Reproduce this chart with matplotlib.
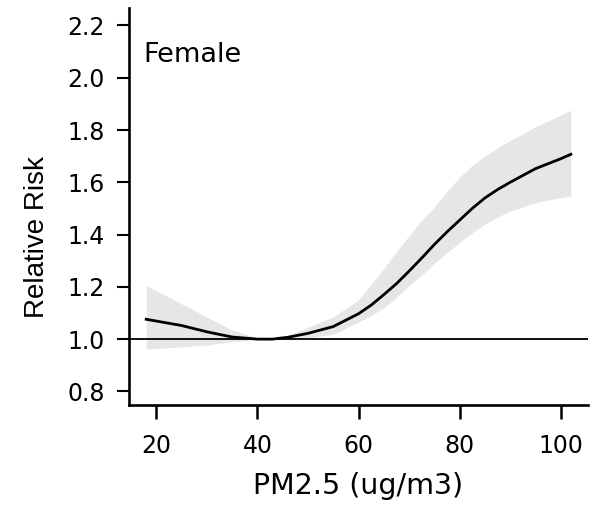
import matplotlib
matplotlib.use("Agg")
import matplotlib.pyplot as plt

# PM2.5 concentration (ug/m3) and estimated relative risk with 95% CI
pm25 = [18, 25, 30, 35, 40, 43, 46, 50, 55, 60, 62.5, 65, 67.5, 70, 72.5, 75,
        77.5, 80, 82.5, 85, 87.5, 90, 95, 100, 102]
rr = [1.076, 1.052, 1.028, 1.008, 1.000, 1.000, 1.007, 1.022, 1.048, 1.097,
      1.130, 1.170, 1.212, 1.260, 1.310, 1.362, 1.410, 1.455, 1.500, 1.540,
      1.572, 1.600, 1.652, 1.690, 1.707]
rr_upper = [1.206, 1.135, 1.085, 1.035, 1.005, 1.000, 1.015, 1.045, 1.085, 1.150,
            1.210, 1.270, 1.335, 1.395, 1.455, 1.505, 1.565, 1.620, 1.665, 1.700,
            1.732, 1.760, 1.812, 1.857, 1.876]
rr_lower = [0.962, 0.970, 0.978, 0.990, 0.998, 1.000, 1.000, 1.005, 1.018, 1.065,
            1.090, 1.120, 1.160, 1.205, 1.245, 1.290, 1.330, 1.370, 1.407, 1.440,
            1.467, 1.490, 1.522, 1.542, 1.547]

xticks = [20, 40, 60, 80, 100]
yticks = [0.8, 1.0, 1.2, 1.4, 1.6, 1.8, 2.0, 2.2]

plt.rcParams['font.family'] = ['DejaVu Sans']

fig = plt.figure(figsize=(5.98, 5.12), dpi=100)
ax = fig.add_axes([0.2157, 0.209, 0.7676, 0.775])

ax.fill_between(pm25, rr_lower, rr_upper, color="#e6e6e6", linewidth=0)
ax.plot(pm25, rr, color="black", linewidth=2.0)
ax.axhline(1.0, color="black", linewidth=1.3)

ax.set_xlim(14.6, 105.4)
ax.set_ylim(0.748, 2.266)
ax.set_xticks(xticks)
ax.set_yticks(yticks)
ax.set_yticklabels([f"{v:.1f}" for v in yticks])

for side in ("top", "right"):
    ax.spines[side].set_visible(False)
for side in ("left", "bottom"):
    ax.spines[side].set_linewidth(1.9)

ax.tick_params(axis="x", length=10, width=1.8, pad=11, labelsize=17)
ax.tick_params(axis="y", length=8.6, width=1.5, pad=9, labelsize=17)

ax.set_xlabel("PM2.5 (ug/m3)", fontsize=20.5, labelpad=10)
ax.set_ylabel("Relative Risk", fontsize=20, family="Liberation Sans")
ax.yaxis.set_label_coords(-0.172, 0.424)

ax.text(0.031, 0.864, "Female", transform=ax.transAxes, fontsize=19.5,
        va="baseline", ha="left")

fig.savefig("out.png", dpi=100)
